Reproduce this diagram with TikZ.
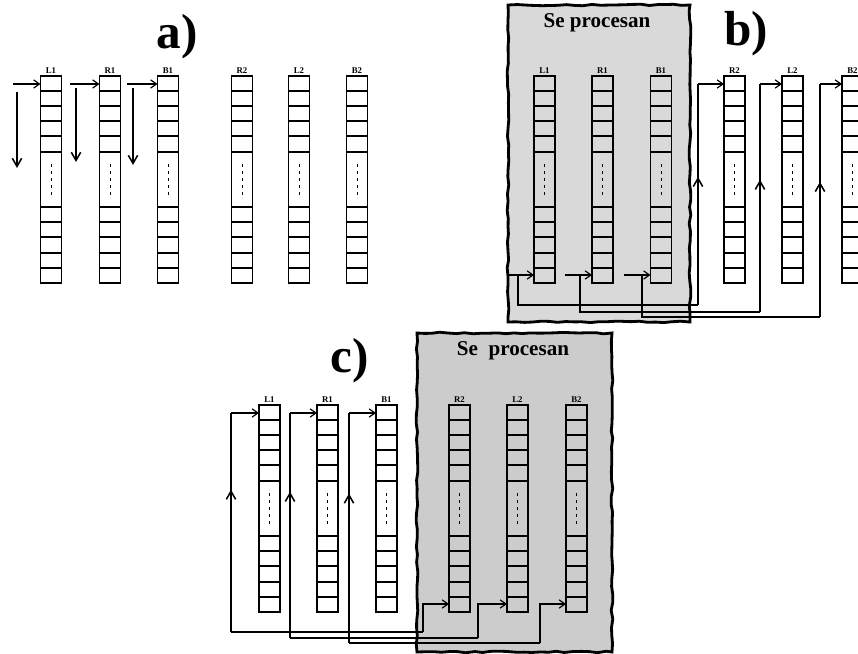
\documentclass[tikz,border=0pt]{standalone}
\usepackage{fontspec}
\setmainfont{Liberation Serif}
\usetikzlibrary{arrows.meta,positioning,calc,decorations.pathmorphing,decorations.markings}
\tikzset{
  stack/.style     = {rectangle, draw, line width=1.1pt, minimum width=0.63cm, minimum height=6.21cm, inner sep=0pt, outer sep=0pt},
  cell/.style      = {line width=0.9pt},
  gap/.style       = {line width=0.8pt, dash pattern=on 2.5pt off 3.5pt},
  colabel/.style   = {font=\bfseries\fontsize{7.5}{8}\selectfont, inner sep=1pt, label distance=1pt},
  wire/.style      = {line width=0.9pt},
  feed/.style      = {wire, -{Straight Barb[length=5pt,width=7pt,line width=1pt]}},
  drop/.style      = {line width=1.1pt, -{Straight Barb[length=7pt,width=8pt,line width=1.3pt]}},
  rise/.style      = {wire, postaction={decorate}, decoration={markings, mark=at position #1 with {\arrow{Straight Barb[length=7pt,width=8pt,line width=1.3pt]}}}},
  rise/.default    = 0.55,
  zone/.style      = {draw, line width=2.4pt, decorate, decoration={random steps, segment length=7pt, amplitude=0.7pt}, inner sep=0pt},
  zonetitle/.style = {font=\bfseries\fontsize{18}{20}\selectfont},
  panel/.style     = {font=\bfseries\fontsize{42}{42}\selectfont}
}
% one register column: name, x, top y, label
\newcommand{\stackcol}[4]{%
  \node[stack, label={[colabel]above:#4}] (#1) at (#2,#3+103.5) {};
  \foreach \k in {15,30,45,60,76,131,146,161,177,192}
    \draw[cell] ($(#1.north west)+(0,\k)$) -- ($(#1.north east)+(0,\k)$);
  \draw[gap] ($(#1.north)+(0,88)$) -- ($(#1.north)+(0,122)$);
}

\begin{document}
\begin{tikzpicture}[x=0.03cm, y=-0.03cm]
    \pgfmathsetseed{7}
    \useasboundingbox (0,0) rectangle (858,654);
    \clip (0,0) rectangle (858,654);
    % Processed zones
    \node[zone, fill=gray!30, minimum width=5.46cm, minimum height=9.51cm] (zb) at (599,163.5) {};
    \node[zone, fill=gray!40, minimum width=5.85cm, minimum height=9.57cm] (zc) at (514.5,492.5) {};
    \node[zonetitle] (tzb) at (597,23) {Se procesan};
    \node[zonetitle] (tzc) at (513,351) {Se\hspace{0.5em}procesan};
    % Panel titles
    \node[panel] (ta) at (177,37) {a)};
    \node[panel] (tb) at (746,34) {b)};
    \node[panel] (tc) at (350,361) {c)};
    % Columns
    \foreach \n/\x/\l in {aL1/51/L1, aR1/110/R1, aB1/168/B1, aR2/242/R2, aL2/299/L2, aB2/357/B2}
      {\stackcol{\n}{\x}{76}{\l}}
    \foreach \n/\x/\l in {bL1/544.5/L1, bR1/602.5/R1, bB1/661/B1, bR2/734.5/R2, bL2/792.5/L2, bB2/852.5/B2}
      {\stackcol{\n}{\x}{76}{\l}}
    \foreach \n/\x/\l in {cL1/269.5/L1, cR1/327.5/R1, cB1/386.5/B1, cR2/459.5/R2, cL2/517.5/L2, cB2/576.5/B2}
      {\stackcol{\n}{\x}{405}{\l}}
    % a) read top down
    \foreach \c/\xi/\xd/\ya/\yb in {aL1/13/17/92/168, aR1/70/76/88/162, aB1/127/133/88/165} {
      \coordinate (\c-in) at (\xi,84);
      \coordinate (\c-d1) at (\xd,\ya);
      \coordinate (\c-d2) at (\xd,\yb);
      \draw[feed] (\c-in) -- (\c-in -| \c.west);
      \draw[drop] (\c-d1) -- (\c-d2);
    }
    % b) bottom cells feed the next block
    \foreach \s/\t/\xi/\xa/\ya/\xb in {bL1/bR2/508/518/305/698, bR1/bL2/565/580/312/760, bB1/bB2/624/642/317/820} {
      \coordinate (\s-in) at (\xi,275);
      \coordinate (\s-k) at (\xa,275);
      \coordinate (\s-dn) at (\xa,\ya);
      \coordinate (\t-dn) at (\xb,\ya);
      \coordinate (\t-up) at (\xb,84);
      \draw[feed] (\s-in) -- (\s-in -| \s.west);
      \draw[wire] (\s-k) -- (\s-dn) -- (\t-dn);
      \draw[rise=0.58] (\t-dn) -- (\t-up);
      \draw[feed] (\t-up) -- (\t-up -| \t.west);
    }
    % c) second block back to the first
    \foreach \s/\t/\xa/\ya/\xb in {cL1/cR2/231/632/423, cR1/cL2/290/638/478, cB1/cB2/349/643/540} {
      \coordinate (\s-up) at (\xa,413);
      \coordinate (\s-dn) at (\xa,\ya);
      \coordinate (\t-dn) at (\xb,\ya);
      \coordinate (\t-in) at (\xb,604);
      \draw[feed] (\s-up) -- (\s-up -| \s.west);
      \draw[rise=0.65] (\s-dn) -- (\s-up);
      \draw[wire] (\t-dn) -- (\s-dn);
      \draw[feed] (\t-dn) -- (\t-in) -- (\t-in -| \t.west);
    }
  \end{tikzpicture}
\end{document}
